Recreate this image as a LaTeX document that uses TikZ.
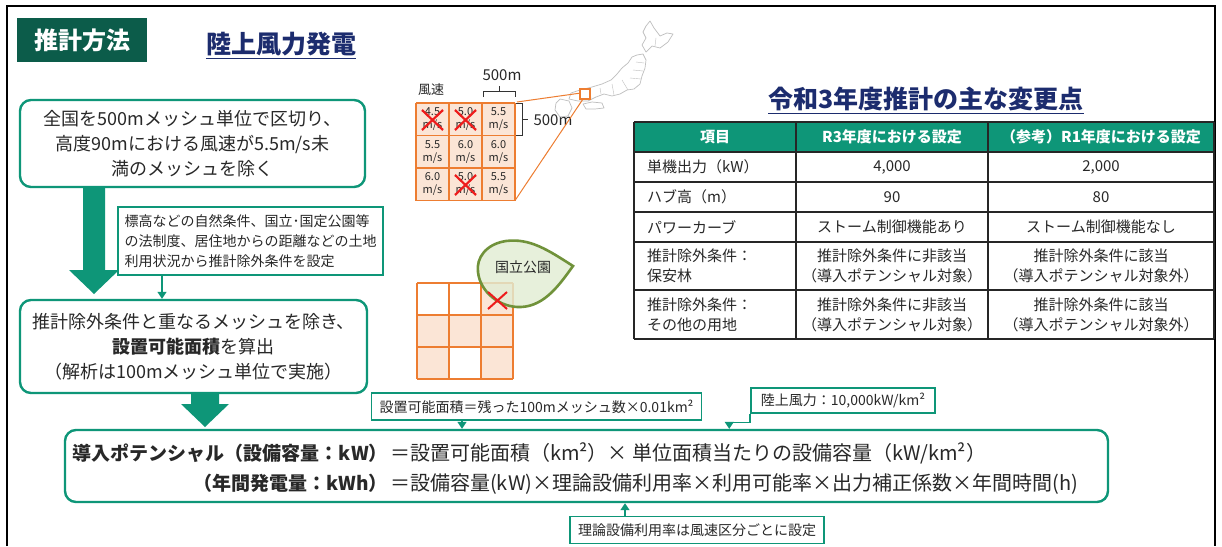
\documentclass[tikz,border=0pt]{standalone}
\usepackage{fontspec}
\setmainfont{Noto Sans CJK JP}
\usetikzlibrary{calc,arrows.meta}

\definecolor{teal}{RGB}{14,150,120}
\definecolor{darkgreen}{RGB}{12,92,74}
\definecolor{navy}{RGB}{28,44,110}
\definecolor{ink}{RGB}{40,40,40}
\definecolor{meshorange}{RGB}{237,125,49}
\definecolor{meshfill}{RGB}{251,229,214}
\definecolor{crossred}{RGB}{238,28,28}
\definecolor{parkline}{RGB}{112,146,58}
\definecolor{parkfill}{RGB}{226,237,212}
\definecolor{mapgray}{RGB}{190,190,190}

\begin{document}
\begin{tikzpicture}[x=1pt,y=-1pt,
  every node/.style={text=ink, inner sep=0pt},
  flowbox/.style={draw=teal, line width=2.4pt, rounded corners=11pt, fill=white, align=center},
  notebox/.style={draw=teal, line width=1.3pt, fill=white, inner xsep=8pt, inner ysep=0pt,
                  minimum height=27pt, font=\fontsize{14}{18}\selectfont},
  callarrow/.style={draw=teal, line width=1.5pt, -{Triangle[length=7pt,width=9pt]}},
  meshcell/.style={draw=meshorange, line width=1.6pt},
  redcross/.style={draw=crossred, line width=2.2pt},
  tabline/.style={draw=black!85, line width=1.2pt},
  celltext/.style={font=\fontsize{15}{20}\selectfont, align=center},
  headtext/.style={font=\fontsize{15}{20}\selectfont\bfseries, text=white},
  bigarrow/.style={fill=teal, draw=none}
]
\useasboundingbox (0,0) rectangle (1222,546);
\fill[white] (0,0) rectangle (1222,546);

% outer frame (open at the bottom)
\draw[black, line width=2pt] (7,546) -- (7,6) -- (1215,6) -- (1215,546);

% headings
\node[fill=darkgreen, minimum width=130pt, minimum height=44pt,
      font=\fontsize{24}{28}\selectfont\bfseries, text=white] (head) at (82,40) {推計方法};
\node[font=\fontsize{25}{28}\selectfont\bfseries, text=navy] (title) at (281,44) {陸上風力発電};
\draw[navy, line width=1.4pt] ($(title.base west)+(0,5)$) -- ($(title.base east)+(0,5)$);

% ---------------- left flow ----------------
\node[flowbox, minimum width=345pt, minimum height=87pt, font=\fontsize{18}{25}\selectfont]
  (b1) at (192.5,143.5) {全国を500mメッシュ単位で区切り、\\高度90mにおける風速が5.5m/s未\\満のメッシュを除く};

\fill[bigarrow] (83,187) -- (105,187) -- (105,270) -- (119,270) -- (94,294) -- (69,270) -- (83,270) -- cycle;

\node[draw=teal, line width=1.3pt, fill=white, minimum width=265pt, minimum height=68pt,
      align=left, font=\fontsize{14}{20}\selectfont] (note) at (250.5,241)
  {標高などの自然条件、国立･国定公園等\\の法制度、居住地からの距離などの土地\\利用状況から推計除外条件を設定};

\node[flowbox, minimum width=347pt, minimum height=93pt, font=\fontsize{18}{25}\selectfont]
  (b3) at (193.5,346.5) {推計除外条件と重なるメッシュを除き、\\\textbf{設置可能面積}を算出\\（解析は100mメッシュ単位で実施）};

\coordinate (nx) at (162,0);
\draw[callarrow, line width=1.3pt] (nx |- note.south) -- (nx |- b3.north);

\fill[bigarrow] (191,393) -- (219,393) -- (219,404) -- (229,404) -- (205,427) -- (181,404) -- (191,404) -- cycle;

% ---------------- formula ----------------
\node[flowbox, minimum width=1043pt, minimum height=72pt] (fbox) at (586.5,466) {};
\node[anchor=base east, font=\fontsize{19}{24}\selectfont\bfseries] (f1a) at (388,460) {導入ポテンシャル（設備容量：kW）};
\node[anchor=base west, font=\fontsize{20}{24}\selectfont] (f1b) at (390,460) {＝設置可能面積（km²）× 単位面積当たりの設備容量（kW/km²）};
\node[anchor=base east, font=\fontsize{19}{24}\selectfont\bfseries] (f2a) at (388,490) {（年間発電量：kWh）};
\node[anchor=base west, font=\fontsize{20}{24}\selectfont] (f2b) at (390,490) {＝設備容量(kW)×理論設備利用率×利用可能率×出力補正係数×年間時間(h)};

\node[notebox] (c1) at (536.5,406.5) {設置可能面積＝残った100mメッシュ数×0.01km²};
\node[notebox, minimum height=25pt, inner xsep=10pt] (c2) at (843,400.5) {陸上風力：10,000kW/km²};
\node[notebox] (c3) at (697,530) {理論設備利用率は風速区分ごとに設定};

\coordinate (k1) at (462,0);
\draw[callarrow] (k1 |- c1.south) -- (k1 |- fbox.north);
\coordinate (k2) at ($(c2.south west)+(-21,9)$);
\draw[callarrow] (c2.south west) |- (k2) -- (k2 |- fbox.north);
\coordinate (k3) at (625,0);
\draw[callarrow] (k3 |- c3.north) -- (k3 |- fbox.south);

% ---------------- wind-speed mesh ----------------
\node[font=\fontsize{13}{15}\selectfont] (ws) at (431,90) {風速};
\foreach \v [count=\i from 0] in {4.5,5.0,5.5,5.5,6.0,6.0,6.0,5.0,5.5} {
  \pgfmathtruncatemacro\row{\i/3}
  \pgfmathtruncatemacro\col{mod(\i,3)}
  \fill[meshfill] ({416+33*\col},{103+32.5*\row}) rectangle ++(33,32.5);
  \node[font=\fontsize{11}{13}\selectfont, align=center] (w\i)
    at ({432.5+33*\col},{119.25+32.5*\row}) {\v\\m/s};
}
\foreach \i in {0,1,2,3} {
  \draw[meshcell] ({416+33*\i},103) -- ({416+33*\i},200.5);
  \draw[meshcell] (416,{103+32.5*\i}) -- (515,{103+32.5*\i});
}
\foreach \i in {0,1,7} {
  \pgfmathtruncatemacro\row{\i/3}
  \pgfmathtruncatemacro\col{mod(\i,3)}
  \draw[redcross] ({422+33*\col},{110+32.5*\row}) -- ({443+33*\col},{130+32.5*\row});
  \draw[redcross] ({443+33*\col},{110+32.5*\row}) -- ({422+33*\col},{130+32.5*\row});
}
% size brackets
\draw[black!80, line width=1pt] (483,97) -- (483,91) -- (515,91) -- (515,97) (499,91) -- (499,86);
\node[font=\fontsize{15}{18}\selectfont] (top500) at (502,75) {500m};
\draw[black!80, line width=1pt] (516,103) -- (522,103) -- (522,135) -- (516,135) (522,119) -- (528,119);
\node[font=\fontsize{15}{18}\selectfont] (side500) at (553,120) {500m};

% ---------------- map of Japan ----------------
\begin{scope}[draw=mapgray, line width=0.7pt, line join=round]
  % Hokkaido
  \draw (646,26) -- (650,21) -- (654,28) -- (660,36) -- (667,33) -- (673,34) -- (668,42)
        -- (660,48) -- (652,46) -- (646,52) -- (642,45) -- (646,38) -- (643,32) -- cycle;
  % Honshu
  \draw (637,55) -- (643,54) -- (646,60) -- (645,68) -- (642,76) -- (640,84) -- (634,89)
        -- (627,90) -- (620,94) -- (612,96) -- (604,94) -- (596,97) -- (588,101) -- (578,101)
        -- (569,99) -- (571,93) -- (580,90) -- (592,87) -- (602,84) -- (611,80) -- (617,74)
        -- (622,68) -- (628,63) -- (632,57) -- cycle;
  % Shikoku
  \draw (583,104) -- (592,102) -- (602,103) -- (604,108) -- (595,109) -- (586,109) -- cycle;
  % Kyushu
  \draw (560,99) -- (569,101) -- (572,108) -- (568,116) -- (560,117) -- (555,110) -- (556,103) -- cycle;
  % prefecture borders
  \draw[line width=0.4pt] (636,62) -- (644,63) (633,70) -- (643,71) (630,78) -- (641,79)
        (622,80) -- (628,90) (612,84) -- (614,95) (600,88) -- (601,94) (590,89) -- (591,99)
        (656,38) -- (655,46);
\end{scope}
\draw[meshorange, line width=1pt] (517,102) -- (581,93);
\draw[meshorange, line width=1pt] (515,200.5) -- (583,99);
\draw[meshorange, line width=2.5pt, fill=white] (580,89) rectangle (590,99);

% ---------------- exclusion mesh with park ----------------
\foreach \f [count=\i from 0] in {white,white,meshfill,meshfill,meshfill,meshfill,meshfill,white,meshfill} {
  \pgfmathtruncatemacro\row{\i/3}
  \pgfmathtruncatemacro\col{mod(\i,3)}
  \fill[\f] ({417+32*\col},{283+32*\row}) rectangle ++(32,32);
}
\foreach \i in {0,1,2,3} {
  \draw[meshcell] ({417+32*\i},283) -- ({417+32*\i},379);
  \draw[meshcell] (417,{283+32*\i}) -- (513,{283+32*\i});
}
\path[draw=parkline, line width=2.6pt, fill=parkfill, fill opacity=0.82]
  (573,266) .. controls (548,250) and (530,238) .. (506,241)
  .. controls (486,244) and (476,258) .. (478,272)
  .. controls (480,292) and (500,308) .. (521,307)
  .. controls (545,306) and (560,284) .. (573,266) -- cycle;
\node[font=\fontsize{14}{16}\selectfont] (park) at (523,267) {国立公園};
\draw[redcross, line width=2pt] (488,292) -- (507,309) (507,292) -- (488,309);

% ---------------- table of changes ----------------
\node[font=\fontsize{25}{28}\selectfont\bfseries, text=navy] (ttitle) at (926,99) {令和3年度推計の主な変更点};
\draw[navy, line width=1.4pt] ($(ttitle.base west)+(0,5)$) -- ($(ttitle.base east)+(0,5)$);

\fill[teal] (634,122) rectangle (1214,152);
\foreach \y in {122,152,182,212,242,290,339} \draw[tabline] (634,\y) -- (1214,\y);
\foreach \x in {634,796,988,1214} \draw[tabline] (\x,122) -- (\x,339);

\node[headtext] (h1) at (715,137) {項目};
\node[headtext] (h2) at (892,137) {R3年度における設定};
\node[headtext] (h3) at (1101,137) {（参考）R1年度における設定};

\node[celltext, anchor=west] (r1a) at (647,167) {単機出力（kW）};
\node[celltext] (r1b) at (892,167) {4,000};
\node[celltext] (r1c) at (1101,167) {2,000};
\node[celltext, anchor=west] (r2a) at (647,197) {ハブ高（m）};
\node[celltext] (r2b) at (892,197) {90};
\node[celltext] (r2c) at (1101,197) {80};
\node[celltext, anchor=west] (r3a) at (647,227) {パワーカーブ};
\node[celltext] (r3b) at (892,227) {ストーム制御機能あり};
\node[celltext] (r3c) at (1101,227) {ストーム制御機能なし};
\node[celltext, anchor=west, align=left] (r4a) at (647,266) {推計除外条件：\\保安林};
\node[celltext] (r4b) at (892,266) {推計除外条件に非該当\\（導入ポテンシャル対象）};
\node[celltext] (r4c) at (1101,266) {推計除外条件に該当\\（導入ポテンシャル対象外）};
\node[celltext, anchor=west, align=left] (r5a) at (647,314.5) {推計除外条件：\\その他の用地};
\node[celltext] (r5b) at (892,314.5) {推計除外条件に非該当\\（導入ポテンシャル対象）};
\node[celltext] (r5c) at (1101,314.5) {推計除外条件に該当\\（導入ポテンシャル対象外）};
\end{tikzpicture}
\end{document}
